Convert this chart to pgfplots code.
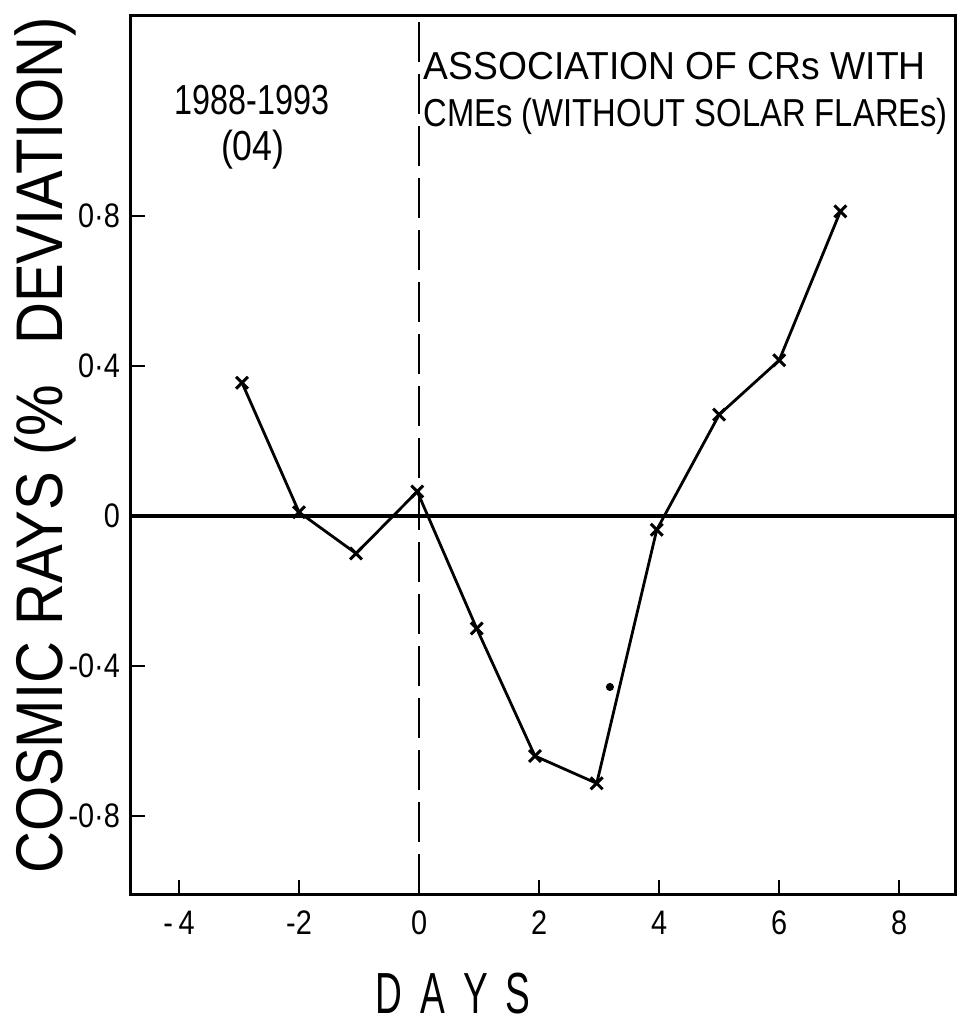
\documentclass[border=0pt]{standalone}
\usepackage{fontspec}
\setmainfont{Liberation Sans}
\newfontfamily\tickfont[FakeStretch=0.85]{Liberation Sans}
\newfontfamily\labfont[FakeStretch=0.88]{Liberation Sans}
\newfontfamily\dayfont[FakeStretch=0.64]{Liberation Sans}
\usepackage{graphicx}
\usepackage{pgfplots}
\pgfplotsset{compat=1.18}

\begin{document}
\begin{tikzpicture}
\begin{axis}[
    scale only axis,
    width=412pt,
    height=439pt,
    xmin=-4.8, xmax=8.93,
    ymin=-1.008, ymax=1.333,
    axis line style={line width=1.5pt},
    xtick={-4,-2,0,2,4,6,8},
    xticklabels={-\,4,-2,0,2,4,6,8},
    ytick={-0.8,-0.4,0,0.4,0.8},
    yticklabels={-0·8,-0·4,0,0·4,0·8},
    xtick pos=bottom,
    ytick pos=left,
    tick align=inside,
    major tick length=7pt,
    every tick/.style={black, line width=1.2pt},
    ticklabel style={font=\tickfont\fontsize{17}{17}\selectfont},
    xticklabel style={yshift=-5pt},
    yticklabel style={xshift=-2pt},
    clip=false
]

% zero line and day-0 marker
\draw[line width=1.6pt] (axis cs:-4.8,0) -- (axis cs:8.93,0);
\draw[line width=1.2pt, dash pattern=on 20pt off 6pt] (axis cs:0,-1.008) -- (axis cs:0,1.333);

\addplot[
    black,
    line width=1.4pt,
    mark=x,
    mark size=4.2pt,
    mark options={line width=1.5pt}
] coordinates {
    (-2.95, 0.355)
    (-2.00, 0.010)
    (-1.05, -0.100)
    (-0.03, 0.065)
    (0.96, -0.300)
    (1.93, -0.640)
    (2.96, -0.713)
    (3.96, -0.037)
    (5.00, 0.270)
    (6.00, 0.415)
    (7.02, 0.812)
};

\addplot[only marks, mark=*, mark size=1.8pt, black] coordinates {(3.18, -0.456)};

\node[anchor=base, font=\fontsize{21}{21}\selectfont] at (axis cs:-2.78,1.069) {\scalebox{0.77}[1]{1988-1993}};
\node[anchor=base, font=\fontsize{21}{21}\selectfont] at (axis cs:-2.77,0.949) {\scalebox{0.85}[1]{(04)}};
\node[anchor=base west, inner sep=0pt, font=\fontsize{19.5}{19.5}\selectfont] at (axis cs:0.07,1.163) {\scalebox{0.955}[1]{ASSOCIATION OF CRs WITH}};
\node[anchor=base west, inner sep=0pt, font=\fontsize{19.5}{19.5}\selectfont] at (axis cs:0.07,1.037) {\scalebox{0.84}[1]{CMEs (WITHOUT SOLAR FLAREs)}};

\node[rotate=90, inner sep=0pt, font=\labfont\fontsize{33}{33}\selectfont] at (axis description cs:-0.104,0.511) {COSMIC RAYS (\%\hspace{0.6em}DEVIATION)};
\node[anchor=base, inner sep=0pt, font=\dayfont\fontsize{29}{29}\selectfont] at (axis description cs:0.391,-0.136) {D\hspace{9pt}A\hspace{9pt}Y\hspace{9pt}S};

\end{axis}
\path ([xshift=-65.5pt,yshift=-68pt]current axis.south west) rectangle ([xshift=2pt,yshift=8pt]current axis.north east);
\end{tikzpicture}
\end{document}
